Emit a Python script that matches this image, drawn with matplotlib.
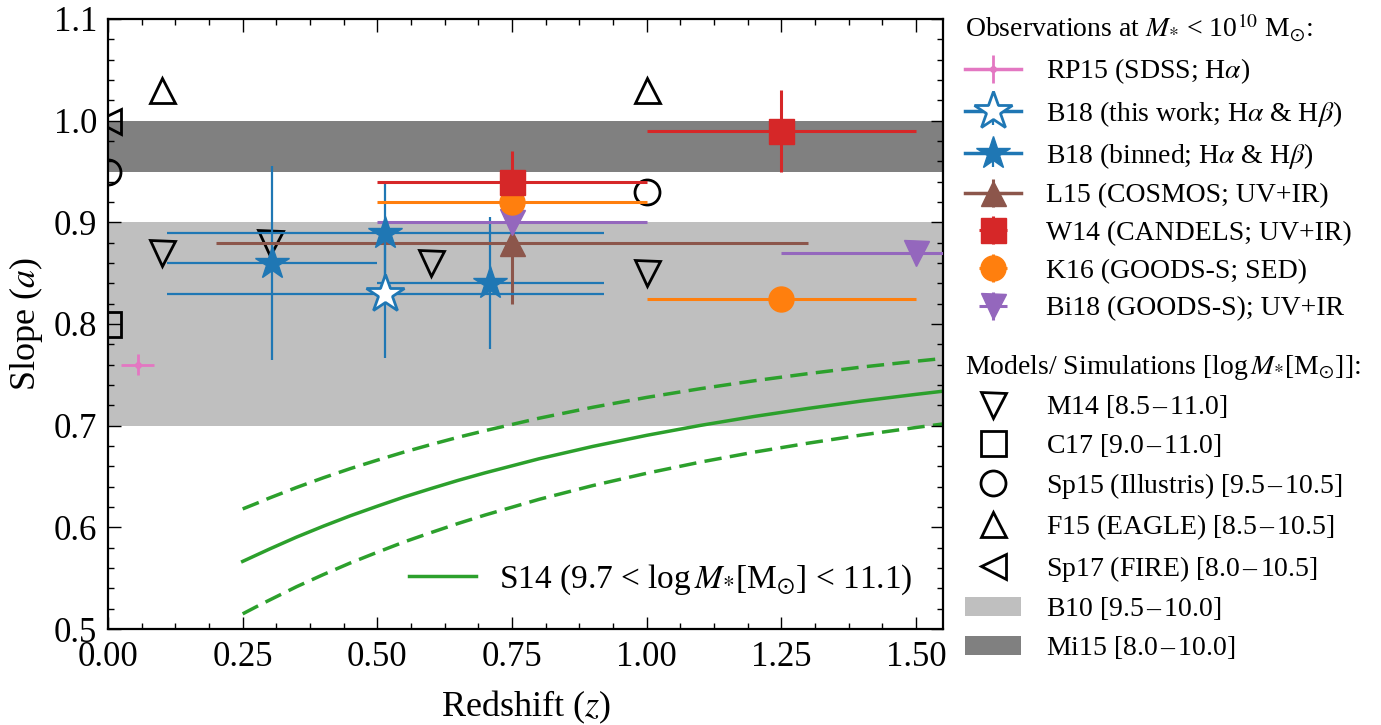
import matplotlib.pyplot as plt
from matplotlib.ticker import MultipleLocator, FormatStrFormatter

plt.rcParams['font.family'] = ['Liberation Serif', 'DejaVu Serif']
plt.rcParams['mathtext.fontset'] = 'stix'

# S14 (Speagle+14) main sequence slope
s14_z = [0.25, 0.275, 0.30, 0.35, 0.40, 0.45, 0.50, 0.55, 0.60, 0.65, 0.70,
         0.80, 0.90, 1.00, 1.10, 1.20, 1.30, 1.40, 1.50, 1.55]
s14_a = [0.5665, 0.5726, 0.5787, 0.5904, 0.6012, 0.6114, 0.6208, 0.6299, 0.6382, 0.6462, 0.6536,
         0.6674, 0.6796, 0.6905, 0.7003, 0.7091, 0.7170, 0.7243, 0.7308, 0.7339]
s14_hi = [0.6181, 0.6234, 0.6289, 0.6392, 0.6488, 0.6578, 0.6661, 0.6741, 0.6815, 0.6886, 0.6951,
          0.7073, 0.7181, 0.7278, 0.7364, 0.7442, 0.7512, 0.7577, 0.7634, 0.7661]
s14_lo = [0.5149, 0.5218, 0.5285, 0.5416, 0.5536, 0.5650, 0.5755, 0.5857, 0.5949, 0.6038, 0.6121,
          0.6275, 0.6411, 0.6532, 0.6642, 0.6740, 0.6828, 0.6909, 0.6982, 0.7017]

# models / simulations
m14_z, m14_a = [0.1, 0.3, 0.6, 1.0], [0.87, 0.88, 0.86, 0.85]
c17_z, c17_a = [0.0], [0.80]
sp15_z, sp15_a = [0.0, 1.0], [0.95, 0.93]
f15_z, f15_a = [0.1, 1.0], [1.03, 1.03]
sp17_z, sp17_a = [0.0], [1.0]
b10_band = [0.70, 0.90]
mi15_band = [0.95, 1.00]

# observations
rp15_z, rp15_a, rp15_zerr, rp15_aerr = [0.055], [0.76], [0.03], [0.01]
b18_z, b18_a, b18_zerr, b18_aerr = [0.515], [0.83], [0.405], [0.063]
b18bin_z = [0.305, 0.515, 0.71]
b18bin_a = [0.86, 0.89, 0.84]
b18bin_zerr = [0.195, 0.405, 0.21]
b18bin_aerr = [0.095, 0.05, 0.065]
l15_z, l15_a, l15_zerr, l15_aerr = [0.75], [0.88], [0.55], [0.06]
w14_z, w14_a, w14_zerr, w14_aerr = [0.75, 1.25], [0.94, 0.99], [0.25, 0.25], [0.03, 0.04]
k16_z, k16_a, k16_zerr, k16_aerr = [0.75, 1.25], [0.92, 0.825], [0.25, 0.25], [0.01, 0.01]
bi18_z, bi18_a, bi18_zerr, bi18_aerr = [0.75, 1.5], [0.90, 0.87], [0.25, 0.25], [0.01, 0.01]

fig = plt.figure(figsize=(13.81, 7.25), dpi=100)
ax = fig.add_axes([108/1381, 96/725, 835/1381, 610/725])

# bands
b10 = ax.axhspan(*b10_band, color='0.75', lw=0, zorder=0, label='B10 [9.5$\\,$–$\\,$10.0]')
mi15 = ax.axhspan(*mi15_band, color='0.5', lw=0, zorder=0, label='Mi15 [8.0$\\,$–$\\,$10.0]')

# S14 curves
s14, = ax.plot(s14_z, s14_a, color='#2ca02c', lw=2.5, zorder=1,
               label='S14 (9.7 < log$\\,M_{*}$[M$_{\\odot}$] < 11.1)')
ax.plot(s14_z, s14_hi, color='#2ca02c', lw=2.5, ls='--', dashes=(5, 2.4), zorder=1)
ax.plot(s14_z, s14_lo, color='#2ca02c', lw=2.5, ls='--', dashes=(5, 2.4), zorder=1)

# models
mk = dict(ls='none', mfc='none', mec='k', mew=2, ms=18, zorder=2)
h_m14, = ax.plot(m14_z, m14_a, 'v', label='M14 [8.5$\\,$–$\\,$11.0]', **mk)
h_c17, = ax.plot(c17_z, c17_a, 's', label='C17 [9.0$\\,$–$\\,$11.0]', **mk)
h_sp15, = ax.plot(sp15_z, sp15_a, 'o', label='Sp15 (Illustris) [9.5$\\,$–$\\,$10.5]', **mk)
h_f15, = ax.plot(f15_z, f15_a, '^', label='F15 (EAGLE) [8.5$\\,$–$\\,$10.5]', **mk)
h_sp17, = ax.plot(sp17_z, sp17_a, '<', label='Sp17 (FIRE) [8.0$\\,$–$\\,$10.5]', **mk)

# observations
h_rp15 = ax.errorbar(rp15_z, rp15_a, xerr=rp15_zerr, yerr=rp15_aerr, fmt='o-', color='#e377c2',
                     ms=4, lw=2.5, elinewidth=2, capsize=0, zorder=3,
                     label='RP15 (SDSS; H$\\alpha$)')
h_bin = None
for i in range(len(b18bin_z)):
    h = ax.errorbar([b18bin_z[i]], [b18bin_a[i]], xerr=[b18bin_zerr[i]], yerr=[b18bin_aerr[i]],
                    fmt='*-', color='#1f77b4', ms=25, lw=2.5, elinewidth=1.6, capsize=0, zorder=3,
                    label='B18 (binned; H$\\alpha$ & H$\\beta$)' if i == 0 else None)
    if i == 0:
        h_bin = h
h_b18 = ax.errorbar(b18_z, b18_a, xerr=b18_zerr, yerr=b18_aerr, fmt='*-', color='#1f77b4',
                    mfc='white', mec='#1f77b4', mew=2, ms=29, lw=2.5, elinewidth=1.6, capsize=0,
                    zorder=4, label='B18 (this work; H$\\alpha$ & H$\\beta$)')
h_l15 = ax.errorbar(l15_z, l15_a, xerr=l15_zerr, yerr=l15_aerr, fmt='^-', color='#8c564b',
                    ms=18, lw=2.5, elinewidth=2.2, capsize=0, zorder=3,
                    label='L15 (COSMOS; UV+IR)')
h_bi18 = ax.errorbar(bi18_z, bi18_a, xerr=bi18_zerr, yerr=bi18_aerr, fmt='v', color='#9467bd',
                     ms=18, elinewidth=2.2, capsize=0, zorder=3, label='Bi18 (GOODS-S); UV+IR')
h_k16 = ax.errorbar(k16_z, k16_a, xerr=k16_zerr, yerr=k16_aerr, fmt='o', color='#ff7f0e',
                    ms=18, elinewidth=2.2, capsize=0, zorder=3, label='K16 (GOODS-S; SED)')
h_w14 = ax.errorbar(w14_z, w14_a, xerr=w14_zerr, yerr=w14_aerr, fmt='s', color='#d62728',
                    ms=18, elinewidth=2.2, capsize=0, zorder=3, label='W14 (CANDELS; UV+IR)')

ax.set_xlim(0, 1.55)
ax.set_ylim(0.5, 1.1)
ax.xaxis.set_major_locator(MultipleLocator(0.25))
ax.xaxis.set_minor_locator(MultipleLocator(0.0625))
ax.yaxis.set_major_locator(MultipleLocator(0.1))
ax.yaxis.set_minor_locator(MultipleLocator(0.02))
ax.xaxis.set_major_formatter(FormatStrFormatter('%.2f'))
ax.yaxis.set_major_formatter(FormatStrFormatter('%.1f'))
ax.tick_params(which='both', direction='in', top=True, right=True, width=1, labelsize=25)
ax.tick_params(axis='x', pad=9)
ax.tick_params(axis='y', pad=8)
ax.tick_params(which='major', length=9)
ax.tick_params(which='minor', length=4.5)
for s in ax.spines.values():
    s.set_linewidth(1.6)
ax.set_xlabel('Redshift ($z$)', fontsize=26, labelpad=10)
ax.set_ylabel('Slope ($a$)', fontsize=26, labelpad=6)

leg_s14 = ax.legend(handles=[s14], loc='lower right', frameon=False, fontsize=24,
                    handletextpad=0.7, bbox_to_anchor=(1.0, 0.004))
ax.add_artist(leg_s14)

leg_obs = ax.legend(handles=[h_rp15, h_b18, h_bin, h_l15, h_w14, h_k16, h_bi18],
                    loc='upper left', bbox_to_anchor=(1.003, 1.043), frameon=False, fontsize=20,
                    title='Observations at $M_{*}$ < 10$^{10}$ M$_{\\odot}$:', title_fontsize=20,
                    alignment='left', labelspacing=0.44, handletextpad=0.9, borderaxespad=0.3)
ax.add_artist(leg_obs)

ax.legend(handles=[h_m14, h_c17, h_sp15, h_f15, h_sp17, b10, mi15],
          loc='upper left', bbox_to_anchor=(1.003, 0.485), frameon=False, fontsize=20,
          title='Models/ Simulations [log$\\,M_{*}$[M$_{\\odot}$]]:', title_fontsize=20,
          alignment='left', labelspacing=0.42, handletextpad=0.9, borderaxespad=0.3)

fig.savefig('out.png', dpi=100)
